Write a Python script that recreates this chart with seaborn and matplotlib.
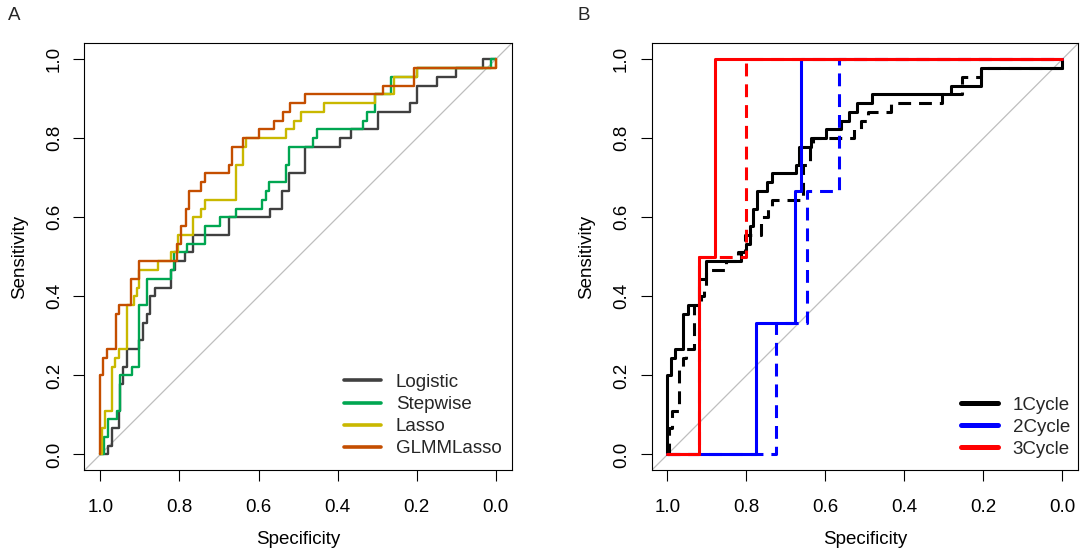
import numpy as np
import matplotlib
matplotlib.use("Agg")
import matplotlib.pyplot as plt
from matplotlib.lines import Line2D
import seaborn as sns

# ---------------------------------------------------------------------------
# ROC curves as step breakpoints: at each specificity the sensitivity rises
# to the listed value (every curve starts at specificity 1, sensitivity 0).
# ---------------------------------------------------------------------------

# Panel A: model comparison
logistic_spec = [0.980, 0.971, 0.953, 0.950, 0.942, 0.932, 0.902, 0.892, 0.883, 0.875,
                 0.862, 0.822, 0.812, 0.785, 0.765, 0.675, 0.571, 0.541, 0.522, 0.482,
                 0.394, 0.367, 0.298, 0.217, 0.199, 0.150, 0.102, 0.033, 0.0]
logistic_sens = [0.022, 0.067, 0.111, 0.178, 0.222, 0.267, 0.289, 0.333, 0.356, 0.400,
                 0.422, 0.467, 0.489, 0.511, 0.556, 0.600, 0.622, 0.667, 0.711, 0.778,
                 0.800, 0.822, 0.867, 0.889, 0.933, 0.956, 0.978, 1.000, 1.000]

stepwise_spec = [0.990, 0.981, 0.959, 0.950, 0.921, 0.902, 0.883, 0.822, 0.813, 0.782,
                 0.736, 0.697, 0.658, 0.591, 0.582, 0.573, 0.531, 0.522, 0.462, 0.453,
                 0.335, 0.325, 0.306, 0.266, 0.199, 0.013, 0.0]
stepwise_sens = [0.044, 0.089, 0.111, 0.200, 0.222, 0.378, 0.444, 0.467, 0.511, 0.533,
                 0.578, 0.600, 0.622, 0.644, 0.667, 0.689, 0.733, 0.778, 0.800, 0.822,
                 0.844, 0.867, 0.911, 0.956, 0.978, 1.000, 1.000]

lasso_spec = [0.995, 0.988, 0.971, 0.963, 0.953, 0.932, 0.914, 0.908, 0.902, 0.853,
              0.822, 0.803, 0.766, 0.745, 0.736, 0.656, 0.640, 0.631, 0.531, 0.511,
              0.493, 0.434, 0.306, 0.258, 0.199, 0.0]
lasso_sens = [0.067, 0.111, 0.222, 0.244, 0.267, 0.378, 0.400, 0.422, 0.467, 0.489,
              0.511, 0.556, 0.600, 0.622, 0.644, 0.733, 0.778, 0.800, 0.822, 0.844,
              0.867, 0.889, 0.911, 0.956, 0.978, 1.000]

glmm_spec = [1.000, 0.993, 0.982, 0.960, 0.952, 0.923, 0.902, 0.805, 0.795, 0.784,
             0.776, 0.745, 0.736, 0.675, 0.667, 0.640, 0.598, 0.560, 0.539, 0.520,
             0.483, 0.285, 0.207, 0.0]
glmm_sens = [0.200, 0.244, 0.267, 0.356, 0.378, 0.444, 0.489, 0.533, 0.578, 0.622,
             0.667, 0.689, 0.711, 0.733, 0.778, 0.800, 0.822, 0.844, 0.867, 0.889,
             0.911, 0.933, 0.978, 1.000]

# Panel B: cycles (solid and dashed curve for each cycle)
c1_solid_spec = [1.000, 0.991, 0.980, 0.962, 0.947, 0.921, 0.903, 0.814, 0.802, 0.792,
                 0.783, 0.774, 0.747, 0.736, 0.675, 0.667, 0.637, 0.599, 0.561, 0.540,
                 0.519, 0.481, 0.283, 0.207, 0.0]
c1_solid_sens = [0.200, 0.244, 0.267, 0.356, 0.378, 0.444, 0.489, 0.511, 0.533, 0.578,
                 0.622, 0.667, 0.689, 0.711, 0.733, 0.778, 0.800, 0.822, 0.844, 0.867,
                 0.889, 0.911, 0.933, 0.978, 1.000]
c1_dash_spec = [0.996, 0.988, 0.971, 0.962, 0.953, 0.932, 0.914, 0.908, 0.902, 0.853,
                0.822, 0.803, 0.764, 0.745, 0.736, 0.656, 0.640, 0.631, 0.527, 0.510,
                0.493, 0.434, 0.304, 0.255, 0.207, 0.0]
c1_dash_sens = [0.067, 0.111, 0.222, 0.244, 0.267, 0.378, 0.400, 0.422, 0.467, 0.489,
                0.511, 0.556, 0.600, 0.622, 0.644, 0.733, 0.778, 0.800, 0.822, 0.844,
                0.867, 0.889, 0.911, 0.956, 0.978, 1.000]

c2_solid_spec = [0.775, 0.677, 0.661, 0.0]
c2_solid_sens = [0.333, 0.667, 1.000, 1.000]
c2_dash_spec = [0.726, 0.646, 0.565, 0.0]
c2_dash_sens = [0.333, 0.667, 1.000, 1.000]

c3_solid_spec = [0.920, 0.879, 0.0]
c3_solid_sens = [0.500, 1.000, 1.000]
c3_dash_spec = [0.920, 0.802, 0.0]
c3_dash_sens = [0.500, 1.000, 1.000]

model_labels = ["Logistic", "Stepwise", "Lasso", "GLMMLasso"]
model_colors = ["#404040", "#00A651", "#C9B800", "#C44E00"]
cycle_labels = ["1Cycle", "2Cycle", "3Cycle"]
cycle_colors = ["#000000", "#0000FF", "#FF0000"]

tick_values = [0.0, 0.2, 0.4, 0.6, 0.8, 1.0]
tick_labels = ["0.0", "0.2", "0.4", "0.6", "0.8", "1.0"]

sns.set_theme(style="ticks")
plt.rcParams["font.family"] = ["Liberation Sans", "DejaVu Sans"]

FS = 13.5
DASH = (0, (4.2, 2.6))


def roc_step(ax, spec, sens, color, lw, ls="-"):
    x = np.concatenate([[1.0], np.asarray(spec, float)])
    y = np.concatenate([[0.0], np.asarray(sens, float)])
    sns.lineplot(x=x, y=y, sort=False, estimator=None, drawstyle="steps-post",
                 color=color, linewidth=lw, linestyle=ls, ax=ax, zorder=3)


def style_axes(ax):
    ax.axline((1.0, 0.0), (0.0, 1.0), color="#BEBEBE", linewidth=0.9, zorder=1)
    ax.set_xlim(1.04, -0.04)
    ax.set_ylim(-0.04, 1.04)
    ax.set_xticks(tick_values)
    ax.set_xticklabels(tick_labels)
    ax.set_yticks(tick_values)
    ax.set_yticklabels(tick_labels, rotation=90, va="center")
    ax.tick_params(direction="out", length=8, width=0.8, colors="black", labelsize=FS)
    ax.tick_params(axis="x", pad=13)
    ax.tick_params(axis="y", pad=7.6)
    for s in ax.spines.values():
        s.set_visible(True)
        s.set_color("black")
        s.set_linewidth(0.8)
    ax.grid(False)
    ax.set_xlabel("Specificity", fontsize=FS, va="center", color="black")
    ax.xaxis.set_label_coords(0.5, -0.161)
    ax.set_ylabel("Sensitivity", fontsize=FS, va="center", color="black")
    ax.yaxis.set_label_coords(-0.152, 0.5)


fig = plt.figure(figsize=(10.83, 5.57), dpi=100)
axA = fig.add_axes([0.07802, 0.15566, 0.39446, 0.76661])
axB = fig.add_axes([0.60175, 0.15566, 0.39390, 0.76661])

# Panel A
lwA = 1.7
roc_step(axA, logistic_spec, logistic_sens, model_colors[0], lwA)
roc_step(axA, stepwise_spec, stepwise_sens, model_colors[1], lwA)
roc_step(axA, lasso_spec, lasso_sens, model_colors[2], lwA)
roc_step(axA, glmm_spec, glmm_sens, model_colors[3], lwA)
style_axes(axA)
handlesA = [Line2D([], [], color=c, linewidth=2.6) for c in model_colors]
axA.legend(handlesA, model_labels, loc="lower left", bbox_to_anchor=(0.6074, 0.030),
           frameon=False, fontsize=FS, handlelength=1.97, handletextpad=0.8,
           labelspacing=0.27, borderpad=0, borderaxespad=0)

# Panel B
lwB = 2.2
roc_step(axB, c1_dash_spec, c1_dash_sens, cycle_colors[0], lwB, DASH)
roc_step(axB, c1_solid_spec, c1_solid_sens, cycle_colors[0], lwB)
roc_step(axB, c2_dash_spec, c2_dash_sens, cycle_colors[1], lwB, DASH)
roc_step(axB, c2_solid_spec, c2_solid_sens, cycle_colors[1], lwB)
roc_step(axB, c3_dash_spec, c3_dash_sens, cycle_colors[2], lwB, DASH)
roc_step(axB, c3_solid_spec, c3_solid_sens, cycle_colors[2], lwB)
style_axes(axB)
handlesB = [Line2D([], [], color=c, linewidth=3.6) for c in cycle_colors]
axB.legend(handlesB, cycle_labels, loc="lower left", bbox_to_anchor=(0.7243, 0.029),
           frameon=False, fontsize=FS, handlelength=1.97, handletextpad=0.8,
           labelspacing=0.27, borderpad=0, borderaxespad=0)

fig.text(14 / 1083, 1 - 15 / 557, "A", ha="center", va="center", fontsize=FS)
fig.text(584 / 1083, 1 - 15 / 557, "B", ha="center", va="center", fontsize=FS)

fig.savefig("out.png", dpi=100)
